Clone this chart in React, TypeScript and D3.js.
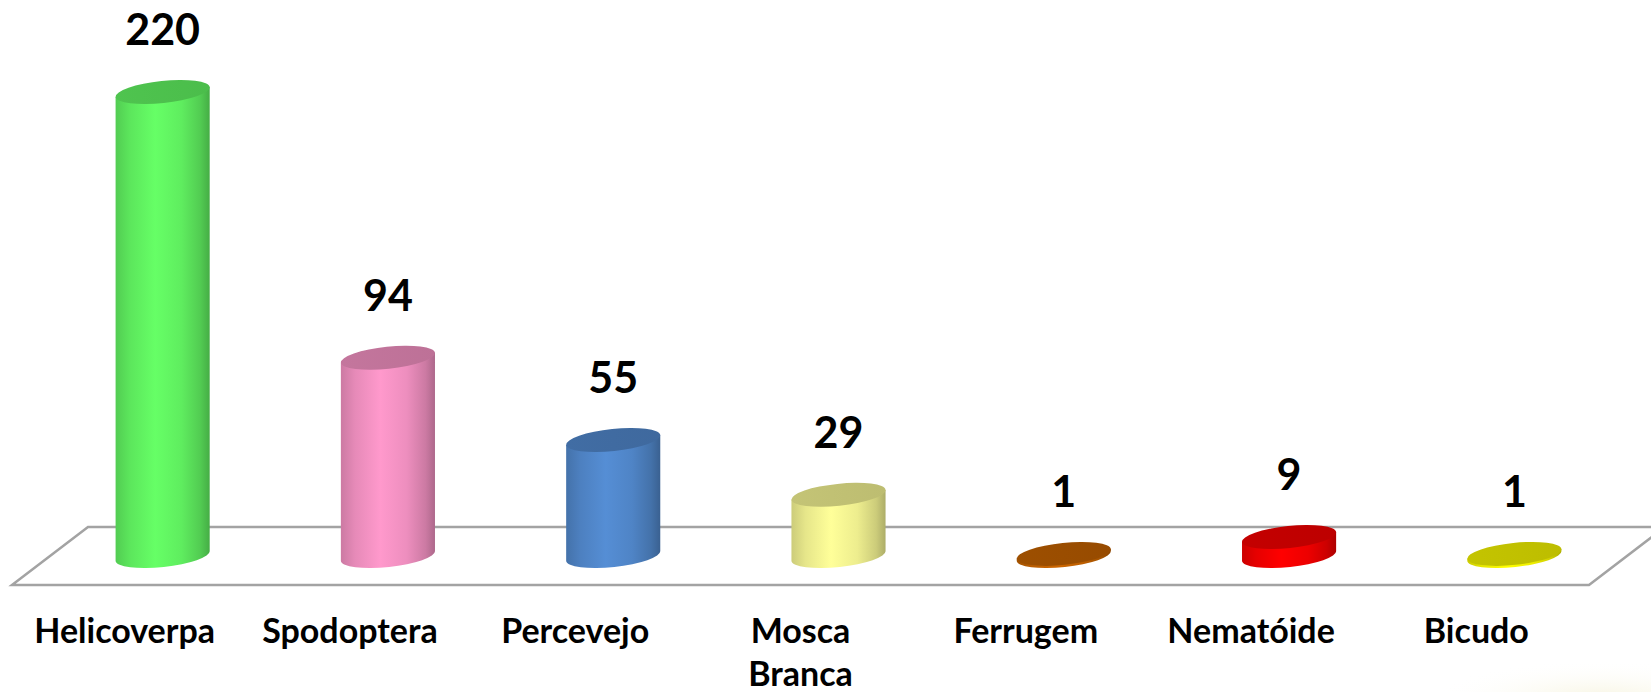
import * as d3 from "d3"
import { useEffect, useRef } from "react"

// chart data
const categories = ["Helicoverpa", "Spodoptera", "Percevejo", "Mosca Branca", "Ferrugem", "Nematóide", "Bicudo"]
const values = [220, 94, 55, 29, 1, 9, 1]
const colors = ["#66FF66", "#FF99CC", "#558ED5", "#FFFF99", "#CC6600", "#FF0000", "#FFFF00"]

const W = 1651
const H = 692

// multiply a colour's channels
const shade = (c: string, f: number) => {
	const rgb = d3.rgb(c)
	return d3.rgb(rgb.r * f, rgb.g * f, rgb.b * f).formatHex()
}

export default function App() {

	const svgRef = useRef<SVGSVGElement>(null)

	useEffect(() => {
		document.body.style.margin = "0"
		const svg = d3.select(svgRef.current)
		svg.selectAll("*").remove()

		const baseY = 556
		// floor depth offset (half depth in px)
		const depthX = 38
		const depthY = 29
		const tilt = 6 // degrees, right side of ellipses higher
		const rad = tilt * Math.PI / 180

		const x = d3.scaleBand<string>()
			.domain(categories)
			.range([50, 1627])
			.padding(0)

		const y = d3.scaleLinear()
			.domain([0, 220])
			.range([baseY, 92])

		const rx = x.step() * 0.21
		const ry = 11

		const defs = svg.append("defs")

		// background smudge bottom right
		const bg = defs.append("radialGradient").attr("id", "bgGlow")
		bg.append("stop").attr("offset", "0%").attr("stop-color", "#f6f3dc").attr("stop-opacity", 0.9)
		bg.append("stop").attr("offset", "100%").attr("stop-color", "#ffffff").attr("stop-opacity", 0)
		svg.append("ellipse")
			.attr("cx", 1600).attr("cy", 700)
			.attr("rx", 170).attr("ry", 40)
			.attr("fill", "url(#bgGlow)")

		// floor
		const x0 = x.range()[0]
		const x1 = x.range()[1]
		const floor = [
			[x0 - depthX, baseY + depthY],
			[x0 + depthX, baseY - depthY],
			[x1 + depthX, baseY - depthY],
			[x1 - depthX, baseY + depthY],
		] as [number, number][]
		svg.append("path")
			.attr("d", d3.line()(floor) + "Z")
			.attr("fill", "#ffffff")
			.attr("stroke", "#a3a3a3")
			.attr("stroke-width", 2.5)
			.attr("stroke-linejoin", "miter")

		// gradients per bar
		colors.forEach((c, i) => {
			const g = defs.append("linearGradient")
				.attr("id", `side${i}`)
				.attr("x1", 0).attr("x2", 1).attr("y1", 0).attr("y2", 0)
			const stops: [number, number][] = [[0, 0.8], [0.15, 0.9], [0.42, 1], [0.7, 0.93], [0.9, 0.8], [1, 0.68]]
			stops.forEach(([o, f]) => g.append("stop").attr("offset", o).attr("stop-color", shade(c, f)))

			const t = defs.append("linearGradient")
				.attr("id", `top${i}`)
				.attr("x1", 0).attr("x2", 1).attr("y1", 0).attr("y2", 0)
			t.append("stop").attr("offset", 0).attr("stop-color", shade(c, 0.77))
			t.append("stop").attr("offset", 1).attr("stop-color", shade(c, 0.74))
		})

		const bars = svg.append("g")
			.selectAll("g")
			.data(values)
			.enter()
			.append("g")

		const dx = rx * Math.cos(rad)
		const dy = rx * Math.sin(rad)

		// cylinder body
		bars.append("path")
			.attr("d", (d, i) => {
				const cx = x(categories[i])! + x.bandwidth() / 2
				const top = y(d)
				return `M${cx - dx},${top + dy} L${cx - dx},${baseY + dy} ` +
					`A${rx},${ry} ${-tilt} 0 0 ${cx + dx},${baseY - dy} ` +
					`L${cx + dx},${top - dy} Z`
			})
			.attr("fill", (d, i) => `url(#side${i})`)

		// cylinder top
		bars.append("ellipse")
			.attr("cx", (d, i) => x(categories[i])! + x.bandwidth() / 2)
			.attr("cy", d => y(d))
			.attr("rx", rx)
			.attr("ry", ry)
			.attr("transform", (d, i) => `rotate(${-tilt}, ${x(categories[i])! + x.bandwidth() / 2}, ${y(d)})`)
			.attr("fill", (d, i) => `url(#top${i})`)

		// value labels
		svg.append("g")
			.selectAll("text")
			.data(values)
			.enter()
			.append("text")
			.attr("x", (d, i) => x(categories[i])! + x.bandwidth() / 2)
			.attr("y", d => y(d) - 47)
			.attr("text-anchor", "middle")
			.style("font-family", "Lato, 'Open Sans', sans-serif")
			.style("font-weight", "bold")
			.style("font-size", "43px")
			.attr("fill", "#000")
			.text(d => d)

		// category labels at the front edge
		const labels = svg.append("g")
			.selectAll("text")
			.data(categories)
			.enter()
			.append("text")
			.attr("x", d => x(d)! + x.bandwidth() / 2 - depthX)
			.attr("y", 643)
			.attr("text-anchor", "middle")
			.style("font-family", "Lato, 'Open Sans', sans-serif")
			.style("font-weight", "bold")
			.style("font-size", "34px")
			.attr("fill", "#000")

		labels.each(function (d) {
			const el = d3.select(this)
			const cx = x(d)! + x.bandwidth() / 2 - depthX
			d.split(" ").forEach((w, j) => {
				el.append("tspan")
					.attr("x", cx)
					.attr("dy", j === 0 ? 0 : 43)
					.text(w)
			})
		})

	}, [])

	return <svg ref={svgRef} width={W} height={H} style={{ display: "block", background: "#ffffff" }} />
}
